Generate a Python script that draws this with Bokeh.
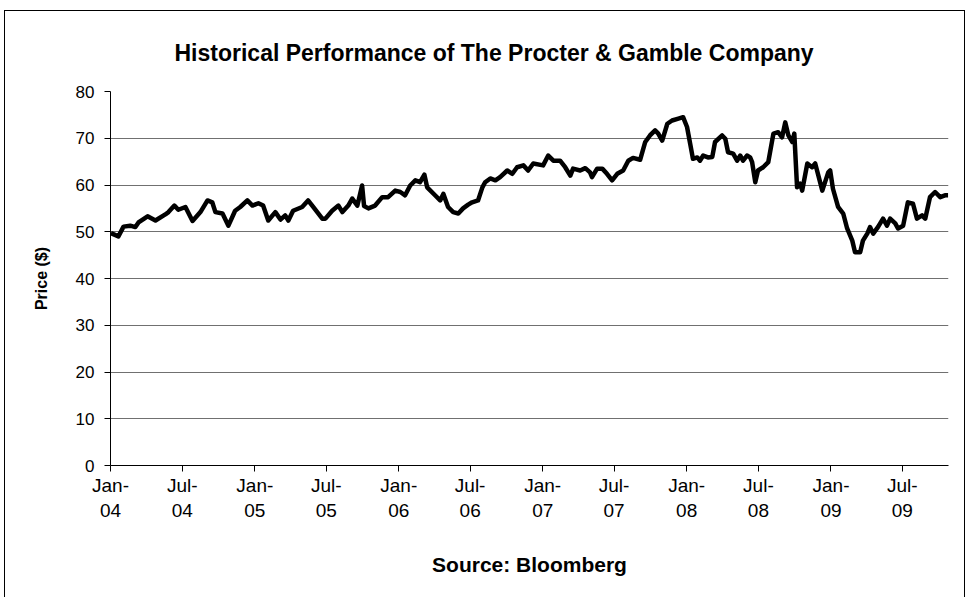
import pandas as pd
from bokeh.plotting import figure
from bokeh.models import FixedTicker, ColumnDataSource, Range1d
from bokeh.embed import file_html
from bokeh.resources import INLINE

# ---- data ----
dates = [
    "2004-01-02", "2004-01-21", "2004-02-03", "2004-02-20", "2004-03-04", "2004-03-12",
    "2004-04-04", "2004-04-24", "2004-05-19", "2004-05-27", "2004-06-11", "2004-06-21",
    "2004-07-09", "2004-07-27", "2004-08-16", "2004-09-03", "2004-09-15", "2004-09-23",
    "2004-10-11", "2004-10-26", "2004-11-12", "2004-11-25", "2004-12-13", "2004-12-26",
    "2005-01-10", "2005-01-22", "2005-02-04", "2005-02-22", "2005-03-07", "2005-03-19",
    "2005-03-27", "2005-04-08", "2005-05-01", "2005-05-16", "2005-05-29", "2005-06-21",
    "2005-06-29", "2005-07-16", "2005-08-01", "2005-08-11", "2005-08-26", "2005-09-05",
    "2005-09-18", "2005-09-30", "2005-10-05", "2005-10-16", "2005-11-02", "2005-11-20",
    "2005-12-05", "2005-12-23", "2006-01-05", "2006-01-17", "2006-01-30", "2006-02-12",
    "2006-02-24", "2006-03-07", "2006-03-14", "2006-04-03", "2006-04-16", "2006-04-24",
    "2006-05-06", "2006-05-19", "2006-06-01", "2006-06-13", "2006-06-26", "2006-07-06",
    "2006-07-21", "2006-08-01", "2006-08-08", "2006-08-21", "2006-09-03", "2006-09-15",
    "2006-10-03", "2006-10-16", "2006-10-28", "2006-11-13", "2006-11-25", "2006-12-08",
    "2007-01-02", "2007-01-15", "2007-01-28", "2007-02-14", "2007-02-27", "2007-03-12",
    "2007-03-19", "2007-04-06", "2007-04-19", "2007-05-01", "2007-05-06", "2007-05-19",
    "2007-06-01", "2007-06-13", "2007-06-26", "2007-07-09", "2007-07-24", "2007-08-06",
    "2007-08-18", "2007-09-05", "2007-09-18", "2007-09-30", "2007-10-13", "2007-10-21",
    "2007-10-31", "2007-11-13", "2007-11-25", "2007-12-11", "2007-12-23", "2008-01-02",
    "2008-01-10", "2008-01-17", "2008-01-28", "2008-02-04", "2008-02-12", "2008-02-24",
    "2008-03-06", "2008-03-13", "2008-03-31", "2008-04-08", "2008-04-15", "2008-04-28",
    "2008-05-08", "2008-05-16", "2008-05-23", "2008-06-02", "2008-06-10", "2008-06-15",
    "2008-06-23", "2008-06-30", "2008-07-13", "2008-07-26", "2008-08-08", "2008-08-20",
    "2008-08-30", "2008-09-07", "2008-09-15", "2008-09-25", "2008-09-30", "2008-10-07",
    "2008-10-15", "2008-10-20", "2008-11-02", "2008-11-14", "2008-11-22", "2008-12-10",
    "2008-12-25", "2008-12-30", "2009-01-06", "2009-01-19", "2009-02-01", "2009-02-11",
    "2009-02-24", "2009-03-03", "2009-03-16", "2009-03-23", "2009-04-03", "2009-04-10",
    "2009-04-18", "2009-04-30", "2009-05-13", "2009-05-23", "2009-05-31", "2009-06-13",
    "2009-06-20", "2009-07-03", "2009-07-15", "2009-07-28", "2009-08-07", "2009-08-20",
    "2009-08-28", "2009-09-09", "2009-09-22", "2009-10-05", "2009-10-17", "2009-10-25",
]
prices = [
    49.7, 49.0, 51.1, 51.3, 51.0, 52.0,
    53.3, 52.4, 53.7, 54.2, 55.6, 54.7,
    55.3, 52.3, 54.2, 56.7, 56.3, 54.2,
    53.9, 51.3, 54.5, 55.3, 56.7, 55.6,
    56.1, 55.6, 52.4, 54.2, 52.6, 53.5,
    52.4, 54.5, 55.3, 56.7, 55.3, 52.8,
    52.8, 54.5, 55.6, 54.2, 55.6, 57.1,
    55.6, 59.9, 55.5, 55.0, 55.6, 57.4,
    57.4, 58.8, 58.5, 57.8, 59.9, 61.0,
    60.6, 62.2, 59.5, 57.8, 56.7, 58.1,
    55.3, 54.2, 53.9, 55.0, 55.8, 56.3,
    56.7, 59.5, 60.6, 61.4, 61.0, 61.7,
    63.1, 62.4, 63.8, 64.2, 63.1, 64.6,
    64.2, 66.3, 65.2, 65.2, 63.8, 62.0,
    63.5, 63.1, 63.6, 62.7, 61.7, 63.5,
    63.5, 62.4, 61.0, 62.4, 63.1, 65.2,
    65.8, 65.4, 69.2, 70.6, 71.7, 71.0,
    69.5, 73.1, 73.8, 74.2, 74.5, 72.4,
    68.8, 65.6, 65.9, 65.2, 66.3, 65.9,
    66.0, 69.2, 70.6, 69.9, 67.0, 66.7,
    65.2, 66.3, 65.2, 66.3, 65.9, 64.9,
    60.6, 63.1, 63.8, 64.9, 71.0, 71.3,
    70.2, 73.4, 70.6, 69.2, 71.0, 59.5,
    60.3, 58.8, 64.6, 63.8, 64.6, 58.8,
    62.7, 63.1, 59.2, 55.3, 53.9, 50.7,
    48.1, 45.6, 45.6, 48.1, 49.6, 51.0,
    49.6, 51.0, 52.8, 51.3, 52.8, 51.8,
    50.7, 51.3, 56.3, 56.0, 52.8, 53.5,
    52.8, 57.4, 58.5, 57.4, 57.8, 57.8,
]
tick_dates = ["2004-01-01", "2004-07-01", "2005-01-01", "2005-07-01", "2006-01-01", "2006-07-01",
              "2007-01-01", "2007-07-01", "2008-01-01", "2008-07-01", "2009-01-01", "2009-07-01"]
tick_labels = ["Jan-\n04", "Jul-\n04", "Jan-\n05", "Jul-\n05", "Jan-\n06", "Jul-\n06",
               "Jan-\n07", "Jul-\n07", "Jan-\n08", "Jul-\n08", "Jan-\n09", "Jul-\n09"]
y_ticks = [0, 10, 20, 30, 40, 50, 60, 70, 80]

FONT = "Liberation Sans"

src = ColumnDataSource(dict(date=pd.to_datetime(dates), price=prices))
tick_ms = [float(t) for t in (pd.to_datetime(tick_dates).astype("int64") // 10**6)]

p = figure(
    width=961, height=587,
    x_axis_type="datetime",
    x_range=Range1d(pd.Timestamp("2004-01-01"), pd.Timestamp("2009-10-26")),
    y_range=Range1d(0, 80),
    output_backend="svg", toolbar_location=None,
    title="Historical Performance of The Procter & Gamble Company",
    min_border_left=105, min_border_right=18, min_border_top=80, min_border_bottom=133,
)
p.styles = {"border-left": "1px solid #000", "border-top": "1px solid #000",
            "border-right": "1px solid #000", "margin-left": "4px", "margin-top": "10px"}

p.line("date", "price", source=src, line_color="black", line_width=4.5, line_join="round")

p.title.align = "left"
p.title.offset = 64
p.title.text_font = FONT
p.title.text_font_size = "23px"
p.title.text_font_style = "bold"
p.title.text_color = "black"
p.title.standoff = 51

p.outline_line_color = None
p.background_fill_color = "white"
p.border_fill_color = "white"

p.xgrid.grid_line_color = None
p.ygrid.ticker = FixedTicker(ticks=y_ticks)
p.ygrid.grid_line_color = "#707070"
p.ygrid.grid_line_width = 1

xa = p.xaxis[0]
xa.ticker = FixedTicker(ticks=tick_ms)
xa.major_label_overrides = {t: lab for t, lab in zip(tick_ms, tick_labels)}
xa.axis_label = "Source: Bloomberg"
xa.axis_label_text_font = FONT
xa.axis_label_text_font_style = "bold"
xa.axis_label_text_font_size = "21px"
xa.axis_label_text_color = "black"
xa.axis_label_standoff = 29
xa.major_label_text_font = FONT
xa.major_label_text_font_size = "19px"
xa.major_label_text_color = "black"
xa.major_label_standoff = 3
xa.major_tick_in = 0
xa.major_tick_out = 6
xa.minor_tick_in = 0
xa.minor_tick_out = 0
xa.axis_line_color = "black"
xa.major_tick_line_color = "black"

ya = p.yaxis[0]
ya.ticker = FixedTicker(ticks=y_ticks)
ya.axis_label = "Price ($)"
ya.axis_label_text_font = FONT
ya.axis_label_text_font_style = "bold"
ya.axis_label_text_font_size = "16px"
ya.axis_label_text_color = "black"
ya.axis_label_standoff = 23
ya.major_label_text_font = FONT
ya.major_label_text_font_size = "17px"
ya.major_label_text_color = "black"
ya.major_label_standoff = 10
ya.major_tick_in = 0
ya.major_tick_out = 6
ya.minor_tick_in = 0
ya.minor_tick_out = 0
ya.axis_line_color = "black"
ya.major_tick_line_color = "black"

open("out.html", "w").write(file_html(p, INLINE))
